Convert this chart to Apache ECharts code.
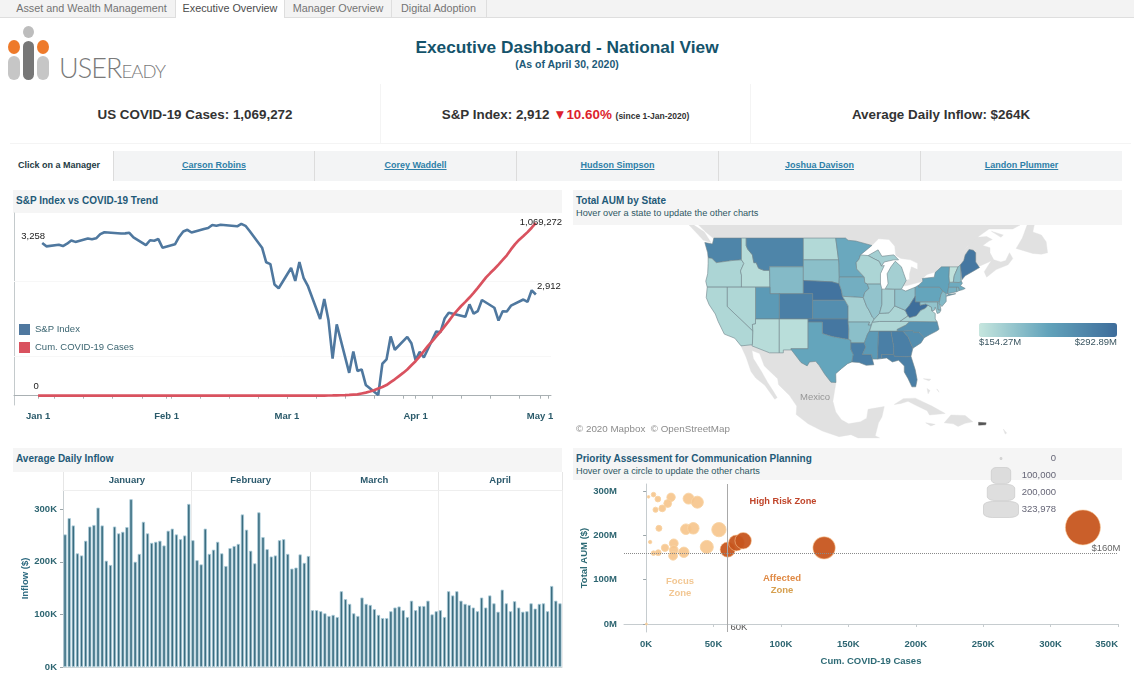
<!DOCTYPE html>
<html lang="en">
<head>
<meta charset="UTF-8">
<title>Executive Dashboard - National View</title>
<style>
html,body{margin:0;padding:0;background:#fff;width:1134px;height:680px;overflow:hidden;font-family:"Liberation Sans",Arial,sans-serif;}
.abs{position:absolute;}
#tabs{left:0;top:0;width:1134px;height:17px;background:#f3f3f3;border-bottom:1px solid #dedede;}
.tab{position:absolute;top:0;height:17px;line-height:16px;font-size:10.8px;color:#737373;text-align:center;border-right:1px solid #dedede;}
.tab.on{background:#fff;color:#4c4c4c;height:18px;}
#title{left:0;width:1134px;top:37px;text-align:center;font-size:17.3px;font-weight:bold;color:#14536b;}
#sub{left:0;width:1134px;top:58px;text-align:center;font-size:10.5px;font-weight:bold;color:#1d5a78;}
.pill{position:absolute;border-radius:7px;}
.dot{position:absolute;border-radius:50%;}
#brand{left:59px;top:53px;color:#7a7a7a;font-family:Lato,sans-serif;font-weight:300;font-size:27px;line-height:30px;letter-spacing:-.9px;white-space:nowrap;}
#brand span{font-size:18.5px;}
.kpi{top:84px;height:59px;border-right:1px solid #f4f4f4;border-bottom:1px solid #f4f4f4;text-align:center;line-height:61px;font-size:13.4px;font-weight:bold;color:#333;white-space:nowrap;}
.kpi em{font-style:normal;color:#dd1f2e;}
.kpi small{font-size:8.5px;color:#333;}
.mgr{top:151px;height:30px;line-height:28px;background:#f3f4f5;border-left:1px solid #dcdcdc;text-align:center;font-size:9px;font-weight:bold;color:#2e7fa8;text-decoration:underline;box-sizing:border-box;}
#click{left:18px;top:151px;height:30px;line-height:28px;font-size:9px;font-weight:bold;color:#1e3a44;}
.head{background:#f5f5f5;color:#1f5a78;font-size:10px;font-weight:bold;box-sizing:border-box;padding:4px 0 0 3px;line-height:13px;}
.head div{font-weight:normal;font-size:9.2px;color:#2e5763;line-height:12px;}
.box{position:absolute;}
</style>
<script src="https://cdn.jsdelivr.net/npm/echarts@6/dist/echarts.min.js"></script>
</head>
<body>
<div id="tabs" class="abs">
    <div class="tab" style="left:8px;width:167px;">Asset and Wealth Management</div>
    <div class="tab on" style="left:176px;width:108px;">Executive Overview</div>
    <div class="tab" style="left:285px;width:106px;">Manager Overview</div>
    <div class="tab" style="left:391px;width:95px;">Digital Adoption</div>
</div>

<div class="dot" style="left:23px;top:26px;width:11px;height:12px;background:#bdbdbd;"></div>
<div class="dot" style="left:8px;top:40px;width:12px;height:14px;background:#ee7a2a;"></div>
<div class="dot" style="left:37px;top:40px;width:12px;height:14px;background:#ee7a2a;"></div>
<div class="pill" style="left:23px;top:41px;width:11px;height:39px;background:#777;"></div>
<div class="pill" style="left:8px;top:56px;width:12px;height:24px;background:#c6c6c6;"></div>
<div class="pill" style="left:37px;top:56px;width:12px;height:24px;background:#c6c6c6;"></div>
<div id="brand" class="abs">USER<span>EADY</span></div>

<div id="title" class="abs">Executive Dashboard - National View</div>
<div id="sub" class="abs">(As of April 30, 2020)</div>

<div class="abs kpi" style="left:10px;width:370px;">US COVID-19 Cases: 1,069,272</div>
<div class="abs kpi" style="left:381px;width:369px;">S&amp;P Index: 2,912 <em>▼10.60%</em> <small>(since 1-Jan-2020)</small></div>
<div class="abs kpi" style="left:751px;width:380px;border-right:0;">Average Daily Inflow: $264K</div>

<div id="click" class="abs">Click on a Manager</div>
<div class="abs mgr" style="left:113px;width:201px;">Carson Robins</div>
<div class="abs mgr" style="left:314px;width:202px;">Corey Waddell</div>
<div class="abs mgr" style="left:516px;width:202px;">Hudson Simpson</div>
<div class="abs mgr" style="left:718px;width:202px;">Joshua Davison</div>
<div class="abs mgr" style="left:920px;width:202px;">Landon Plummer</div>

<div class="abs head" style="left:13px;top:190px;width:549px;height:23px;">S&amp;P Index vs COVID-19 Trend</div>
<div class="abs head" style="left:573px;top:190px;width:549px;height:35px;">Total AUM by State<div>Hover over a state to update the other charts</div></div>
<div class="abs head" style="left:13px;top:448px;width:549px;height:24px;">Average Daily Inflow</div>
<div class="abs head" style="left:573px;top:448px;width:549px;height:32px;">Priority Assessment for Communication Planning<div>Hover over a circle to update the other charts</div></div>

<div id="trend" class="box" style="left:0;top:205px;width:567px;height:225px;"></div>
<div id="aum" class="box" style="left:572px;top:225px;width:550px;height:215px;"></div>
<div id="inflow" class="box" style="left:0;top:472px;width:567px;height:205px;"></div>
<div id="priority" class="box" style="left:572px;top:448px;width:562px;height:230px;"></div>

<script>
// ---- trend data
var monthStarts = [[1,1],[2,1],[3,1],[4,1],[5,1]];
var spDays = ['1-2','1-3','1-6','1-7','1-8','1-9','1-10','1-13','1-14','1-15','1-16','1-17','1-21','1-22','1-23','1-24','1-27','1-28','1-29','1-30','1-31',
    '2-3','2-4','2-5','2-6','2-7','2-10','2-11','2-12','2-13','2-14','2-18','2-19','2-20','2-21','2-24','2-25','2-26','2-27','2-28',
    '3-2','3-3','3-4','3-5','3-6','3-9','3-10','3-11','3-12','3-13','3-16','3-17','3-18','3-19','3-20','3-23','3-24','3-25','3-26','3-27','3-30','3-31',
    '4-1','4-2','4-3','4-6','4-7','4-8','4-9','4-13','4-14','4-15','4-16','4-17','4-20','4-21','4-22','4-23','4-24','4-27','4-28','4-29','4-30'];
var spValues = [3258,3235,3246,3237,3253,3275,3265,3288,3283,3289,3317,3330,3321,3322,3326,3295,3244,3276,3273,3284,3226,
    3249,3298,3335,3346,3328,3352,3358,3379,3374,3380,3370,3386,3373,3338,3226,3128,3116,2979,2954,
    3090,3003,3130,3024,2972,2747,2882,2741,2481,2711,2386,2529,2398,2409,2305,2237,2447,2476,2630,2541,2627,2585,
    2471,2527,2489,2664,2659,2750,2790,2762,2846,2783,2800,2875,2823,2737,2799,2798,2837,2878,2863,2940,2912];
// cumulative cases per calendar day from Jan 1
var covidValues = [0,0,0,0,0,0,0,0,0,0,0,0,0,0,0,0,0,0,0,0,0,1,1,2,2,5,5,5,6,6,8,
    8,8,11,11,11,11,11,11,11,11,12,12,13,13,13,13,13,13,13,13,15,15,15,51,51,57,58,60,68,
    74,98,118,149,217,262,402,518,583,959,1281,1663,2179,2727,3499,4632,6421,7783,13747,19273,25600,33276,43847,53740,65778,83836,101657,121465,140909,161831,188172,
    213372,243453,275586,308850,337072,366667,396223,429052,461437,496535,526396,555313,580619,607670,636350,667592,699706,732197,759086,784326,811865,840351,869170,905358,938154,965785,988197,1012582,1039909,1069272];

// ---- inflow data, one bar per calendar day (thousands)
var inflowMonths = ['January','February','March','April'];
var inflowJan = [252,283,269,216,212,240,267,270,303,269,202,194,267,254,257,266,319,200,215,276,254,236,238,240,231,259,263,252,243,250,310];
var inflowFeb = [241,203,195,263,215,223,238,216,192,226,230,234,290,261,221,197,294,247,224,210,212,241,243,215,187,189,214,198,211];
var inflowMar = [108,108,106,102,97,99,95,144,129,120,102,97,132,120,118,110,99,93,93,106,113,115,108,95,126,108,116,116,126,100,106];
var inflowApr = [108,95,144,136,144,126,120,118,113,106,132,113,136,121,105,147,121,106,125,113,105,106,121,111,120,121,106,154,126,121];

// ---- AUM by state ($M)
var aumStates = ['Washington','Oregon','California','Idaho','Nevada','Montana','Wyoming','Utah','Arizona','Colorado','New Mexico','North Dakota','South Dakota','Nebraska','Kansas','Oklahoma','Texas','Minnesota','Iowa','Missouri','Arkansas','Louisiana','Wisconsin','Illinois','Michigan','Indiana','Ohio','Kentucky','Tennessee','Mississippi','Alabama','Georgia','Florida','South Carolina','North Carolina','Virginia','West Virginia','Pennsylvania','New York','Vermont','New Hampshire','Maine','Massachusetts','Connecticut','Rhode Island','New Jersey','Delaware','Maryland'];
var aumValues = [262,172,170,165,170,262,200,235,165,270,163,168,195,285,250,280,222,218,212,178,195,270,172,190,178,178,190,172,170,235,270,270,270,250,245,172,292,222,225,158,195,280,215,210,200,200,200,190];

// ---- bubbles: cases (thousands), AUM ($M)
var focusCases = [0.2,1.8,5.5,8.7,18.5,16,7,12,31.5,38,9.5,29.5,35,54,3,20.5,20.5,14,5.5,9,20,28,45];
var focusAum = [0,287,292,282,286,272,258,261,283,275,216,214,216,213,185,182,167,172,160,161,154,162,174];
var riskCases = [60.5,67,72,132,323.978];
var riskAum = [168,183,188,172,218];
var sizeLabels = ['0','100,000','200,000','323,978'];
var sizeValues = [0,100,200,323.978];

// ---- outlines, lon/lat
var landShapes = {
    'Canada': [
        [[-126,50.7],[-124.5,49.8],[-123,49],[-95.15,49],[-94.6,48.7],[-93,48.6],[-89.6,48],[-88.2,48.9],[-86,48.8],[-84.8,47.9],[-84.6,46.6],[-83.5,46.2],[-81.5,46],[-80,45.5],[-80,44.6],[-81.3,45],[-81.7,44],[-81.7,43.2],[-82.4,43],[-83,42.2],[-82.4,42.2],[-80.4,42.6],[-79,42.85],[-79.2,43.2],[-78,43.9],[-76.5,44.2],[-75,45],[-71.5,45],[-71,45.3],[-70.3,45.9],[-70,46.7],[-69.2,47.45],[-68.3,47.35],[-67.8,47],[-67.8,45.7],[-67,45.1],[-65,45.7],[-64.5,45.9],[-66,44.3],[-65.5,43.5],[-63.5,44.6],[-61,45.3],[-60,46.2],[-60.7,47],[-61.5,45.9],[-62.5,45.7],[-64,46],[-64.8,47],[-64.8,47.7],[-66.3,48],[-65,48.6],[-64.3,48.8],[-65.5,49.2],[-67.5,49.1],[-69,48.2],[-71,46.8],[-69.5,47.9],[-67,49.3],[-65,50.2],[-60,50.2],[-58.5,50.7]],
        [[-128,50.7],[-125,48.7],[-123.4,48.4],[-124.8,49.8],[-127,50.7]],
        [[-59.3,47.6],[-58,49],[-57,50.7],[-55.5,50.7],[-55.8,49.8],[-54,49.4],[-53,48.5],[-52.7,47],[-54,46.8],[-55.8,46.9]],
        [[-64.5,49.9],[-62,49.4],[-62.5,49.1]]
    ],
    'Mexico': [[[-117.1,32.5],[-116,30.5],[-115,28],[-114,26.8],[-112.1,25.5],[-110,22.9],[-109.5,23.2],[-110.4,24.5],[-111.5,26],[-112.8,28],[-114.5,30.3],[-114.8,31.7],[-113.2,31.2],[-112.2,29],[-111,28],[-109.4,26.7],[-109.2,25.6],[-106.9,23.6],[-105.4,21.6],[-105.5,20],[-103,18.2],[-100,16.8],[-96.5,15.7],[-94,16.1],[-92.5,15.46],[-88,15.46],[-88.9,15.9],[-88.2,18.4],[-87.5,19.5],[-87,21.5],[-90.4,21],[-90.7,19.3],[-92,18.6],[-94.5,18.2],[-96,19],[-97.2,20.5],[-97.8,22.5],[-97.15,26],[-98.2,26.05],[-99.5,27.5],[-100.7,29.1],[-101.4,29.8],[-102.7,29.7],[-103.2,29],[-104.5,29.6],[-106.5,31.8],[-108.2,31.8],[-108.2,31.3],[-111.1,31.3],[-114.8,32.5],[-114.7,32.7]]],
    'Cuba': [[[-84.9,21.9],[-83,23],[-80.5,23.1],[-77,21.6],[-74.2,20.2],[-77.5,19.9],[-78,20.7],[-80.5,21.8],[-82,22.5],[-83.5,22.1]]],
    'Hispaniola': [[[-74.4,18.4],[-73,19.9],[-70,19.8],[-68.4,18.6],[-70,18.3],[-71.5,17.7],[-72.5,18.2]]],
    'Jamaica': [[[-78.3,18.4],[-76.3,18.1],[-77.2,17.8]]],
    'Bahamas': [[[-78.8,26.7],[-77.2,26.6],[-77.6,26.3]],[[-78,24.9],[-77.4,24.5],[-77.8,23.9]],[[-76,24.8],[-75.5,24.2],[-75.8,24.7]]],
    'Antilles': [[[-62,17.2],[-61.6,16.2],[-61.3,16.4]]],
    'Puerto Rico': [[[-67.2,18.5],[-65.6,18.4],[-65.7,18],[-67.2,17.95]]]
};
var stateShapes = {
    'Washington': [[[-124.7,48.4],[-123.1,48.2],[-122.8,49],[-117,49],[-117,46],[-119,45.9],[-121.2,45.7],[-122.3,45.6],[-123.2,46.2],[-124,46.3],[-124.1,47]]],
    'Oregon': [[[-124,46.3],[-123.2,46.2],[-122.3,45.6],[-121.2,45.7],[-119,45.9],[-117,46],[-116.5,45.5],[-117.2,44.4],[-117,43.8],[-117,42],[-124.2,42],[-124.5,42.9],[-124.1,44],[-124,45.5]]],
    'Idaho': [[[-117,49],[-116,49],[-116,48],[-115.7,47.5],[-114.7,46.7],[-114.4,45.6],[-113.9,45.6],[-113.4,44.8],[-112.3,44.5],[-111.1,44.5],[-111,42],[-117,42],[-117,43.8],[-117.2,44.4],[-116.5,45.5],[-117,46]]],
    'Montana': [[[-116,49],[-104,49],[-104,45],[-111.1,45],[-111.1,44.5],[-112.3,44.5],[-113.4,44.8],[-113.9,45.6],[-114.4,45.6],[-114.7,46.7],[-115.7,47.5],[-116,48]]],
    'Wyoming': [[[-111.1,45],[-104,45],[-104,41],[-111,41]]],
    'North Dakota': [[[-104,49],[-97.2,49],[-96.6,46],[-104,46]]],
    'South Dakota': [[[-104,46],[-96.6,46],[-96.5,45.3],[-96.45,43.5],[-96.5,42.5],[-98,42.8],[-104,43]]],
    'Nebraska': [[[-104,43],[-98,42.8],[-96.5,42.5],[-96,41.5],[-95.8,40.6],[-95.3,40],[-102.05,40],[-102.05,41],[-104,41]]],
    'Colorado': [[[-109.05,41],[-102.05,41],[-102.05,37],[-109.05,37]]],
    'Utah': [[[-114.05,42],[-111,42],[-111,41],[-109.05,41],[-109.05,37],[-114.05,37]]],
    'Nevada': [[[-120,42],[-114.05,42],[-114.05,36.2],[-114.7,36.1],[-114.6,35],[-120,39]]],
    'California': [[[-124.2,42],[-120,42],[-120,39],[-114.6,35],[-114.7,32.7],[-117.1,32.5],[-118.4,33.8],[-120.6,34.5],[-121.9,36.6],[-122.5,37.8],[-123.8,39.3],[-124.4,40.4]]],
    'Arizona': [[[-114.6,35],[-114.7,36.1],[-114.05,36.2],[-114.05,37],[-109.05,37],[-109.05,31.3],[-111.1,31.3],[-114.8,32.5],[-114.7,32.7]]],
    'New Mexico': [[[-109.05,37],[-103,37],[-103,32],[-106.6,32],[-106.5,31.8],[-108.2,31.8],[-108.2,31.3],[-109.05,31.3]]],
    'Kansas': [[[-102.05,40],[-95.3,40],[-94.6,39.1],[-94.6,37],[-102.05,37]]],
    'Oklahoma': [[[-103,37],[-94.6,37],[-94.6,36.5],[-94.45,35.4],[-94.5,33.6],[-96,33.8],[-98,34.1],[-100,34.6],[-100,36.5],[-103,36.5]]],
    'Texas': [[[-103,36.5],[-100,36.5],[-100,34.6],[-98,34.1],[-96,33.8],[-94.5,33.6],[-94.05,33.5],[-94,33],[-94,31.9],[-93.5,31],[-93.8,29.7],[-94.7,29.4],[-96,28.5],[-97.2,27.6],[-97.15,26],[-98.2,26.05],[-99.5,27.5],[-100.7,29.1],[-101.4,29.8],[-102.7,29.7],[-103.2,29],[-104.5,29.6],[-106.5,31.8],[-106.6,32],[-103,32]]],
    'Minnesota': [[[-97.2,49],[-95.15,49],[-94.6,48.7],[-93,48.6],[-89.6,48],[-92,46.7],[-92.3,46.1],[-92.9,45.6],[-92.8,44.7],[-91.2,43.5],[-96.45,43.5],[-96.5,45.3],[-96.6,46]]],
    'Iowa': [[[-96.45,43.5],[-91.2,43.5],[-91.1,42.7],[-90.6,42.5],[-90.2,41.8],[-91.1,41.2],[-91.4,40.4],[-95.8,40.6],[-96,41.5],[-96.5,42.5]]],
    'Missouri': [[[-95.8,40.6],[-91.4,40.4],[-90.7,39],[-90.2,38.4],[-89.5,37.3],[-89.1,37],[-89.5,36.5],[-89.7,36],[-90.4,36],[-90.1,36.5],[-94.6,36.5],[-94.6,39.1],[-95.3,40]]],
    'Arkansas': [[[-94.6,36.5],[-90.1,36.5],[-90.4,36],[-89.7,36],[-90.1,35],[-90.5,34.5],[-91.2,33],[-94,33],[-94.05,33.5],[-94.5,33.6],[-94.45,35.4]]],
    'Louisiana': [[[-94,33],[-91.2,33],[-90.9,32.3],[-91.6,31],[-89.7,31],[-89.5,30.2],[-89.2,29.2],[-90.8,29.1],[-92.3,29.6],[-93.8,29.7],[-93.5,31],[-94,31.9]]],
    'Mississippi': [[[-91.2,33],[-90.5,34.5],[-90.1,35],[-88.2,35],[-88.4,30.2],[-89.5,30.2],[-89.7,31],[-91.6,31],[-90.9,32.3]]],
    'Alabama': [[[-88.2,35],[-85.6,35],[-85,32.3],[-85,31],[-87.6,31],[-87.5,30.3],[-88.4,30.2]]],
    'Georgia': [[[-85.6,35],[-83.1,35],[-82,34],[-81,32.1],[-81.4,30.7],[-82.2,30.6],[-84.9,30.7],[-85,31],[-85,32.3]]],
    'Florida': [[[-87.6,31],[-85,31],[-84.9,30.7],[-82.2,30.6],[-81.4,30.7],[-80.5,28.3],[-80.1,26.5],[-80.4,25.2],[-81.2,25.2],[-82,26.7],[-82.8,27.9],[-82.8,29],[-84,30],[-85.3,29.7],[-86.5,30.4],[-87.5,30.3]]],
    'South Carolina': [[[-83.1,35],[-81,35.1],[-80.8,34.8],[-79.7,34.8],[-78.6,33.9],[-79.3,33],[-81,32.1],[-82,34]]],
    'North Carolina': [[[-84.3,35],[-83.1,35],[-81,35.1],[-80.8,34.8],[-79.7,34.8],[-78.6,33.9],[-77.5,34.4],[-76,35],[-75.5,35.3],[-75.9,36.55],[-81.7,36.6],[-82.5,36],[-84.3,35.3]]],
    'Tennessee': [[[-90.1,35],[-88.2,35],[-85.6,35],[-84.3,35],[-84.3,35.3],[-82.5,36],[-81.7,36.6],[-83.7,36.6],[-88,36.6],[-89.5,36.5],[-89.7,36]]],
    'Kentucky': [[[-89.5,36.5],[-88,36.6],[-83.7,36.6],[-82,37.5],[-82.6,38.4],[-84.8,39.1],[-86,38],[-88,37.9],[-89.1,37]]],
    'Illinois': [[[-90.6,42.5],[-87.8,42.5],[-87.5,41.7],[-87.5,39.3],[-88,37.9],[-89.1,37],[-89.5,37.3],[-90.2,38.4],[-90.7,39],[-91.4,40.4],[-91.1,41.2],[-90.2,41.8]]],
    'Indiana': [[[-87.5,41.7],[-84.8,41.7],[-84.8,39.1],[-86,38],[-88,37.9],[-87.5,39.3]]],
    'Ohio': [[[-84.8,41.7],[-83.4,41.7],[-82.5,41.4],[-80.5,42],[-80.5,40.6],[-81.7,39.2],[-82.6,38.4],[-84.8,39.1]]],
    'Michigan': [[[-84.8,41.7],[-83.4,41.7],[-82.4,43],[-82.9,44],[-83.4,45],[-84.7,45.8],[-85.6,45],[-86.4,44],[-86.2,42.5],[-86.8,41.76]],
        [[-90.4,46.6],[-88.3,47.4],[-87.5,46.5],[-85,46.7],[-84,46],[-85,46],[-87,45.7],[-87.6,45.1],[-88.1,45.8],[-89,46.1]]],
    'Wisconsin': [[[-92,46.7],[-90.4,46.6],[-89,46.1],[-88.1,45.8],[-87.6,45.1],[-87,45.2],[-87.8,44],[-87.8,42.5],[-90.6,42.5],[-91.1,42.7],[-91.2,43.5],[-92.8,44.7],[-92.9,45.6],[-92.3,46.1]]],
    'Pennsylvania': [[[-80.5,42],[-79.8,42.3],[-79.8,42],[-75.4,42],[-74.7,41.4],[-75.1,40.9],[-75.4,39.8],[-80.5,39.7]]],
    'New York': [[[-79.8,42.3],[-78.9,42.9],[-79,43.3],[-76.5,43.5],[-76.3,44.2],[-75,45],[-73.3,45],[-73.4,43.6],[-73.3,42.75],[-73.5,42],[-73.7,41],[-74,41],[-74.7,41.4],[-75.4,42],[-79.8,42]],
        [[-74,40.6],[-72,41],[-73.6,40.9]]],
    'West Virginia': [[[-80.5,40.6],[-80.5,39.7],[-79.5,39.7],[-79.5,39.2],[-78.3,39.4],[-77.8,39.2],[-78.4,38.7],[-79.3,38.4],[-80.3,37.5],[-81.7,37.2],[-82,37.5],[-82.6,38.4],[-81.7,39.2]]],
    'Virginia': [[[-83.7,36.6],[-81.7,36.6],[-75.9,36.55],[-76.3,37],[-76.3,37.9],[-77,38.3],[-77.1,38.9],[-77.8,39.2],[-78.4,38.7],[-79.3,38.4],[-80.3,37.5],[-81.7,37.2],[-82,37.5]]],
    'Maryland': [[[-79.5,39.7],[-75.8,39.7],[-75.7,38.5],[-75.1,38.4],[-75.4,38],[-75.9,37.9],[-76.3,38.9],[-76.5,38.4],[-77,38.3],[-77.1,38.9],[-77.8,39.2],[-78.3,39.4],[-79.5,39.2]]],
    'Delaware': [[[-75.8,39.7],[-75.4,39.8],[-75.1,38.5],[-75.7,38.5]]],
    'New Jersey': [[[-75.1,40.9],[-74.7,41.4],[-74,41],[-74,40.6],[-74,39.8],[-74.9,39],[-75.5,39.5],[-75.4,39.8]]],
    'Connecticut': [[[-73.7,41],[-73.5,42],[-71.8,42],[-71.8,41.3]]],
    'Rhode Island': [[[-71.8,42],[-71.4,42],[-71.2,41.5],[-71.8,41.3]]],
    'Massachusetts': [[[-73.5,42],[-73.3,42.75],[-72.5,42.75],[-71.3,42.7],[-70.8,42.9],[-70.6,42.6],[-71,42.2],[-70,41.8],[-70.6,41.6],[-71.2,41.5],[-71.4,42],[-71.8,42]]],
    'Vermont': [[[-73.4,43.6],[-73.3,45],[-71.5,45],[-72.3,43.7],[-72.5,42.75],[-73.3,42.75]]],
    'New Hampshire': [[[-72.5,42.75],[-72.3,43.7],[-71.5,45],[-71,45.3],[-70.9,43.2],[-70.8,42.9],[-71.3,42.7]]],
    'Maine': [[[-71,45.3],[-70.3,45.9],[-70,46.7],[-69.2,47.45],[-68.3,47.35],[-67.8,47],[-67.8,45.7],[-67,44.9],[-68.5,44.3],[-70,43.7],[-70.7,43.1],[-70.9,43.2]]]
};

var font = '"Liberation Sans",Arial,sans-serif';
var tealBold = {color:'#2d6571',fontSize:9.5,fontWeight:'bold',fontFamily:font};

function day(m, d) { return new Date(2020, m - 1, d).getTime(); }

// ---- S&P vs covid
(function () {
    var spData = spDays.map(function (s, i) {
        var p = s.split('-');
        return [day(+p[0], +p[1]), spValues[i]];
    });
    var covidData = covidValues.map(function (v, i) { return [day(1, 1 + i), v]; });
    var months = monthStarts.map(function (m) { return day(m[0], m[1]); });
    var ticks = months.slice();
    for (var i = 0; i < 18; i++) ticks.push(day(1, 5 + i * 7));
    var names = ['Jan','Feb','Mar','Apr','May'];

    function endText(point, text, pos) {
        return {coord: point, symbolSize: 0, label: {show: true, formatter: text, position: 'top', offset: pos, color: '#222', fontSize: 9.5, fontFamily: font}};
    }

    echarts.init(document.getElementById('trend')).setOption({
        animation: false,
        grid: {left: 14, right: 16, top: 8, height: 192, outerBoundsMode: 'none'},
        legend: {
            left: 14, top: 114, orient: 'vertical', icon: 'rect', itemWidth: 11, itemHeight: 11, itemGap: 7,
            textStyle: {color: '#3a6470', fontSize: 9.5, fontFamily: font},
            data: ['S&P Index', 'Cum. COVID-19 Cases']
        },
        // value axis holding timestamps, custom ticks don't work on a time axis
        xAxis: {
            type: 'value',
            min: day(1, 1) - 5.8 * 86400000,
            max: day(5, 1) + 2.65 * 86400000,
            axisLine: {lineStyle: {color: '#a9b0b3'}},
            axisTick: {customValues: ticks, length: 3, lineStyle: {color: '#a9b0b3'}},
            axisLabel: {
                customValues: months, color: '#2a5a6a', fontSize: 9.5, fontWeight: 'bold', fontFamily: font, margin: 6,
                formatter: function (v) { return names[new Date(v).getMonth()] + ' 1'; }
            },
            splitLine: {show: false}
        },
        yAxis: [
            {type: 'value', min: 2170, max: 3459, axisLine: {show: true, lineStyle: {color: '#c4cacc'}}, axisTick: {show: false}, axisLabel: {show: false}, splitLine: {show: false}},
            {type: 'value', min: -57600, max: 1131000, show: false, splitLine: {show: false}}
        ],
        series: [
            {
                name: 'S&P Index', type: 'line', data: spData, showSymbol: false, yAxisIndex: 0,
                lineStyle: {color: '#4f789f', width: 2.6}, itemStyle: {color: '#4f789f'},
                markLine: {z: 1, silent: true, symbol: 'none', label: {show: false}, lineStyle: {color: '#f7f7f7', width: 1, type: 'solid'}, data: [{yAxis: 2500}, {yAxis: 3000}]},
                markPoint: {data: [
                    endText(spData[0], '3,258', [-9, 3]),
                    endText(spData[spData.length - 1], '2,912', [13, 2])
                ]}
            },
            {
                name: 'Cum. COVID-19 Cases', type: 'line', data: covidData, showSymbol: false, yAxisIndex: 1,
                lineStyle: {color: '#d9525f', width: 2.7}, itemStyle: {color: '#d9525f'},
                markPoint: {data: [
                    endText(covidData[0], '0', [-2, 1]),
                    endText(covidData[covidData.length - 1], '1,069,272', [5, 9])
                ]}
            }
        ]
    });
})();

// ---- AUM map
(function () {
    function feature(name, polys) {
        return {type: 'Feature', properties: {name: name}, geometry: {type: 'MultiPolygon', coordinates: polys.map(function (p) { return [p.concat([p[0]])]; })}};
    }
    var features = [];
    Object.keys(landShapes).forEach(function (k) { features.push(feature(k, landShapes[k])); });
    Object.keys(stateShapes).forEach(function (k) { features.push(feature(k, stateShapes[k])); });
    echarts.registerMap('usa', {type: 'FeatureCollection', features: features});

    function merc(lat) { return Math.log(Math.tan(Math.PI / 4 + lat * Math.PI / 360)) * 180 / Math.PI; }
    function unmerc(y) { return (2 * Math.atan(Math.exp(y * Math.PI / 180)) - Math.PI / 2) * 180 / Math.PI; }

    var regions = Object.keys(landShapes).map(function (k) {
        var c = k === 'Puerto Rico' ? '#555' : '#e1e1e1';
        return {name: k, silent: true, itemStyle: {areaColor: c, borderColor: c, borderWidth: 0.4}};
    });

    echarts.init(document.getElementById('aum')).setOption({
        animation: false,
        geo: {
            map: 'usa', roam: false, silent: true,
            projection: {
                project: function (p) { return [p[0], -merc(p[1]) * 1.031]; },
                unproject: function (p) { return [p[0], unmerc(-p[1] / 1.031)]; }
            },
            boundingCoords: [[-128, 50.7], [-52, 15.46]],
            layoutCenter: [298, 106.5],
            layoutSize: 361.8,
            itemStyle: {areaColor: '#e1e1e1', borderColor: '#6f8389', borderWidth: 0.6},
            emphasis: {disabled: true},
            regions: regions
        },
        visualMap: {
            type: 'continuous', min: 154.27, max: 292.89, seriesIndex: 0,
            orient: 'horizontal', left: 407, top: 98, itemWidth: 14, itemHeight: 138,
            text: ['', ''], calculable: false, hoverLink: false, padding: 0,
            inRange: {color: ['#c6e6de', '#62a3bb', '#3e6d9b']}
        },
        series: [{
            type: 'map', geoIndex: 0,
            data: aumStates.map(function (s, i) { return {name: s, value: aumValues[i]}; })
        }],
        graphic: [
            {type: 'text', left: 407, top: 112, silent: true, style: {text: '$154.27M', fontSize: 9.5, fontFamily: font, fill: '#3a5560'}},
            {type: 'text', right: 5, top: 112, silent: true, style: {text: '$292.89M', fontSize: 9.5, fontFamily: font, fill: '#3a5560'}},
            {type: 'text', left: 4, top: 199, silent: true, style: {text: '© 2020 Mapbox  © OpenStreetMap', fontSize: 9.8, fontFamily: font, fill: '#8c8c8c'}},
            {type: 'text', left: 228, top: 167, silent: true, z: 100, style: {text: 'Mexico', fontSize: 9.5, fontFamily: font, fill: '#969696'}}
        ]
    });
})();

// ---- daily inflow
(function () {
    var values = inflowJan.concat(inflowFeb, inflowMar, inflowApr);
    var cats = values.map(function (v, i) { return i; });
    var counts = [inflowJan.length, inflowFeb.length, inflowMar.length, inflowApr.length];
    var edges = [0], mids = [];
    counts.forEach(function (c, i) { mids.push(edges[i] + c / 2); edges.push(edges[i] + c); });

    echarts.init(document.getElementById('inflow')).setOption({
        animation: false,
        grid: {left: 63, right: 5, top: 18, height: 177, outerBoundsMode: 'none'},
        xAxis: [
            {type: 'category', data: cats, axisLine: {lineStyle: {color: '#cfd6d8'}}, axisTick: {show: false}, axisLabel: {show: false}},
            {
                type: 'value', position: 'top', min: 0, max: values.length,
                axisLine: {show: true, lineStyle: {color: '#eeeeee'}},
                axisTick: {show: true, customValues: edges, length: 18, lineStyle: {color: '#e6e6e6'}},
                axisLabel: {
                    customValues: mids, margin: 5, color: '#2c5a6d', fontSize: 9.5, fontWeight: 'bold', fontFamily: font,
                    formatter: function (v) { return inflowMonths[mids.indexOf(v)]; }
                },
                splitLine: {show: true, lineStyle: {color: '#ececec'}}
            }
        ],
        yAxis: {
            type: 'value', min: 0, max: 336.5,
            name: 'Inflow ($)', nameLocation: 'center', nameRotate: 90, nameGap: 33, nameMoveOverlap: false,
            nameTextStyle: {color: '#2d6a80', fontSize: 9.5, fontWeight: 'bold', fontFamily: font},
            axisLine: {show: true, lineStyle: {color: '#c9cfd2'}},
            axisTick: {show: true, customValues: [0, 100, 200, 300], length: 3, lineStyle: {color: '#9aa5a9'}},
            axisLabel: {customValues: [0, 100, 200, 300], formatter: '{value}K', margin: 6, color: '#2d6571', fontSize: 9.5, fontWeight: 'bold', fontFamily: font},
            splitLine: {show: false}
        },
        series: [{type: 'bar', data: values, barWidth: 3.2, itemStyle: {color: '#3a6c7f', borderColor: '#a9cbd9', borderWidth: 0.8}}]
    });
})();

// ---- priority bubbles
(function () {
    function pairs(a, b) { return a.map(function (v, i) { return [v, b[i]]; }); }
    function bubble(k) { return Math.max(2, 35 * Math.sqrt(k / 323.978)); }
    function legendSize(v) { var d = bubble(v[2]); return [d, Math.min(d, 16)]; }
    function note(text, x, y, color, w, size) {
        return {type: 'text', x: x, y: y, silent: true, style: {text: text, fill: color, fontSize: size || 9.5, fontWeight: w, fontFamily: font, align: 'center', verticalAlign: 'middle'}};
    }

    echarts.init(document.getElementById('priority')).setOption({
        animation: false,
        grid: [
            {left: 52, width: 494, top: 36, height: 148, outerBoundsMode: 'none'},
            {left: 372, width: 114, top: 2, height: 68, outerBoundsMode: 'none'}
        ],
        xAxis: [
            {
                type: 'value', min: -16.4, max: 350, gridIndex: 0,
                name: 'Cum. COVID-19 Cases', nameLocation: 'center', nameGap: 24,
                nameTextStyle: {color: '#2d6a75', fontSize: 9.5, fontWeight: 'bold', fontFamily: font},
                axisLine: {lineStyle: {color: '#c6cccf'}},
                axisTick: {show: true, customValues: [0, 50, 100, 150, 200, 250, 300, 350], length: 3, lineStyle: {color: '#c6cccf'}},
                axisLabel: Object.assign({customValues: [0, 50, 100, 150, 200, 250, 300, 350], formatter: '{value}K', margin: 7, alignMaxLabel: 'right'}, tealBold),
                splitLine: {show: false}
            },
            {type: 'value', min: -1, max: 1, gridIndex: 1, show: false}
        ],
        yAxis: [
            {
                type: 'value', min: -18, max: 316, gridIndex: 0,
                name: 'Total AUM ($)', nameLocation: 'center', nameRotate: 90, nameGap: 35, nameMoveOverlap: false,
                nameTextStyle: {color: '#2d6a75', fontSize: 9.5, fontWeight: 'bold', fontFamily: font},
                axisLine: {show: true, lineStyle: {color: '#c6cccf'}},
                axisTick: {show: true, customValues: [0, 100, 200, 300], length: 3, lineStyle: {color: '#9aa5a9'}},
                axisLabel: Object.assign({customValues: [0, 100, 200, 300], formatter: '{value}M', margin: 7}, tealBold),
                splitLine: {show: false}
            },
            {
                type: 'category', data: sizeLabels, inverse: true, gridIndex: 1, position: 'right',
                axisLine: {show: false}, axisTick: {show: false},
                axisLabel: {inside: true, margin: 2, color: '#667', fontSize: 9.5, fontFamily: font}
            }
        ],
        series: [
            {
                type: 'scatter', name: 'Focus', data: pairs(focusCases, focusAum),
                symbolSize: function (v) { return bubble(v[0]); },
                itemStyle: {color: '#f6c68d', opacity: 0.92, borderColor: '#f9d3a3', borderWidth: 1},
                markLine: {
                    silent: true, symbol: 'none', label: {show: false},
                    data: [
                        {xAxis: 60, lineStyle: {color: '#a9a9a9', width: 1, type: 'solid'}},
                        {yAxis: 160, lineStyle: {color: '#8a8a8a', width: 1, type: 'dotted'}}
                    ]
                }
            },
            {
                type: 'scatter', name: 'High risk', data: pairs(riskCases, riskAum),
                symbolSize: function (v) { return bubble(v[0]); },
                itemStyle: {color: '#c7561f', opacity: 0.95, borderColor: 'rgba(250,200,150,0.6)', borderWidth: 1}
            },
            {
                type: 'scatter', name: 'Size legend', xAxisIndex: 1, yAxisIndex: 1,
                symbol: 'roundRect',
                data: sizeLabels.map(function (s, i) { return [0, s, sizeValues[i]]; }),
                symbolSize: legendSize,
                itemStyle: {color: '#d6d6d6', borderColor: '#bcbcbc', borderWidth: 0.6}
            }
        ],
        graphic: [
            note('High Risk Zone', 211, 53, '#c0452a', 'bold', 9.2),
            note('Focus', 108, 133, '#f2c793', 'bold'),
            note('Zone', 108, 145, '#f2c793', 'bold'),
            note('Affected', 210, 130, '#e08a45', 'bold'),
            note('Zone', 210, 142, '#d6a050', 'bold'),
            note('60K', 167, 179, '#555', 'normal'),
            note('$160M', 534, 100, '#666', 'normal')
        ]
    });
})();
</script>
</body>
</html>
